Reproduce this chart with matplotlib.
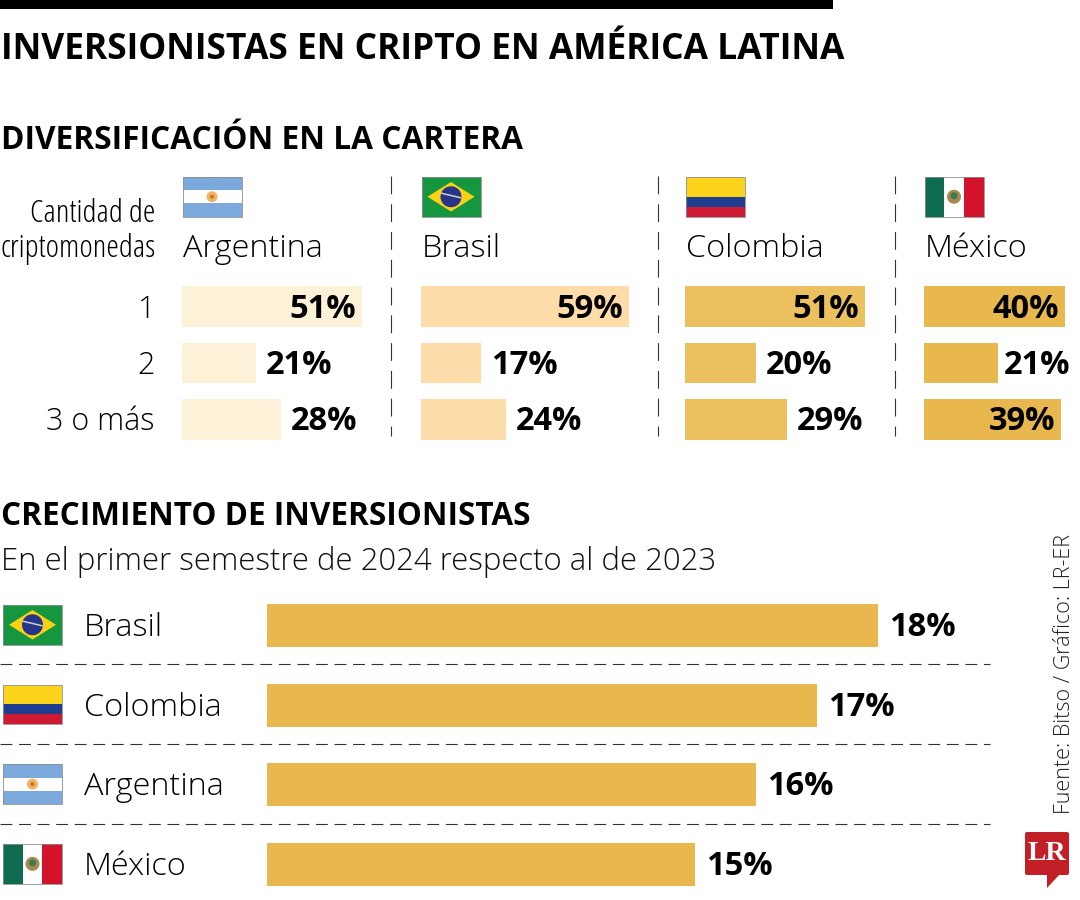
import matplotlib
matplotlib.use('Agg')
import matplotlib.pyplot as plt
from matplotlib.patches import Rectangle, Polygon, Circle, FancyBboxPatch

# datos
paises_top = ['Argentina', 'Brasil', 'Colombia', 'México']
filas = ['1', '2', '3 o más']
argentina = [51, 21, 28]
brasil = [59, 17, 24]
colombia = [51, 20, 29]
mexico = [40, 21, 39]

paises_bottom = ['Brasil', 'Colombia', 'Argentina', 'México']
crecimiento = [18, 17, 16, 15]

W, H = 1080, 900
LIGHT = 'Open Sans'
BOLD = 'Open Sans'
AMARILLO = '#E8B84E'

plt.rcParams['font.family'] = ['Open Sans', 'DejaVu Sans']

fig = plt.figure(figsize=(W / 100, H / 100), dpi=100, facecolor='white')


def ejes_px(x0, y0, x1, y1):
    # ejes a partir de una caja en pixeles (y hacia abajo)
    ax = fig.add_axes([x0 / W, 1 - y1 / H, (x1 - x0) / W, (y1 - y0) / H])
    ax.axis('off')
    return ax


lienzo = ejes_px(0, 0, W, H)
lienzo.set_xlim(0, W)
lienzo.set_ylim(H, 0)


def rect(x, y, w, h, color, z=2):
    lienzo.add_patch(Rectangle((x, y), w, h, fc=color, ec='none', zorder=z))


def bandera(nombre, x, y, w=59, h=39.5):
    if nombre == 'Argentina':
        rect(x, y, w, h, '#7BA9DC')
        rect(x, y + h / 3, w, h / 3, 'white', 3)
        lienzo.add_patch(Circle((x + w / 2, y + h / 2), 5.5, fc='#F0B366', ec='none', zorder=4))
        lienzo.add_patch(Circle((x + w / 2, y + h / 2), 2, fc='#C8761E', ec='none', zorder=5))
    elif nombre == 'Brasil':
        rect(x, y, w, h, '#16963F')
        lienzo.add_patch(Polygon([(x + 6, y + h / 2), (x + w / 2, y + 5), (x + w - 6, y + h / 2), (x + w / 2, y + h - 5)],
                                 fc='#FBD116', ec='none', zorder=3))
        lienzo.add_patch(Circle((x + w / 2, y + h / 2), 10.5, fc='#27348B', ec='none', zorder=4))
        lienzo.plot([x + w / 2 - 9.5, x + w / 2 + 9.5], [y + h / 2 - 3.5, y + h / 2 + 1], color='#C9D3C4', lw=1.1, zorder=5)
    elif nombre == 'Colombia':
        rect(x, y, w, h / 2, '#FDD41C')
        rect(x, y + h / 2, w, h / 4, '#1F3E8F')
        rect(x, y + h * 3 / 4, w, h / 4, '#CE1A32')
    else:
        rect(x, y, w / 3, h, '#0F6B4F')
        rect(x + w / 3, y, w / 3, h, 'white')
        rect(x + w * 2 / 3, y, w / 3, h, '#D2132B')
        lienzo.add_patch(Circle((x + w / 2, y + h / 2), 7, fc='#A8894F', ec='none', zorder=4))
        lienzo.add_patch(Circle((x + w / 2, y + h / 2 - 1), 3.5, fc='#3F7B4F', ec='none', zorder=5))
    lienzo.add_patch(Rectangle((x, y), w, h, fc='none', ec='#8A8F94', lw=0.6, zorder=6))


# barra superior y titulos
rect(0, 0, 833, 8.5, 'black')
lienzo.text(1, 59, 'INVERSIONISTAS EN CRIPTO EN AMÉRICA LATINA', fontsize=25.5, fontweight='bold', family=BOLD)
lienzo.text(1, 149, 'DIVERSIFICACIÓN EN LA CARTERA', fontsize=22.8, fontweight='bold', family=BOLD)
lienzo.text(1, 525, 'CRECIMIENTO DE INVERSIONISTAS', fontsize=22.7, fontweight='bold', family=BOLD)
lienzo.text(1, 570, 'En el primer semestre de 2024 respecto al de 2023', fontsize=22.4, family=LIGHT, fontweight='light', color='#111111')

lienzo.text(155, 222, 'Cantidad de', ha='right', fontsize=23, family=LIGHT, fontweight='light', stretch='condensed')
lienzo.text(156, 257, 'criptomonedas', ha='right', fontsize=23, family=LIGHT, fontweight='light', stretch='condensed')

# panel superior
series = [argentina, brasil, colombia, mexico]
x_inicio = [182, 421, 685, 924]
colores = ['#FDF1D8', '#FDDCA9', '#EBC05E', AMARILLO]
for nombre, vals, x0, col in zip(paises_top, series, x_inicio, colores):
    ax = ejes_px(x0, 278.25, x0 + 100 * 3.525, 447.75)
    ax.set_xlim(0, 100)
    ax.set_ylim(2.5, -0.5)
    ax.barh(range(len(vals)), vals, height=0.72, color=col)
    for i, v in enumerate(vals):
        if v >= 39:
            ax.annotate(f'{v}%', (v, i), xytext=(-6, 1.5), textcoords='offset pixels', ha='right', va='center_baseline',
                        fontsize=23.5, fontweight='bold', annotation_clip=False)
        else:
            dx = 6 if nombre == 'México' else 10
            ax.annotate(f'{v}%', (v, i), xytext=(dx, 1.5), textcoords='offset pixels', ha='left', va='center_baseline',
                        fontsize=23.5, fontweight='bold', annotation_clip=False)
    bandera(nombre, x0 + 0.5, 177)
    lienzo.text(x0 + 1, 257, nombre, fontsize=23.3, family=LIGHT, fontweight='light')

for yy, etiqueta in zip([318, 374, 430], filas):
    lienzo.text(155, yy, etiqueta, ha='right', fontsize=22, family=LIGHT, fontweight='light')

for xx in [391, 658, 895]:
    lienzo.plot([xx, xx], [176, 436], color='#333333', lw=0.8, dashes=(16, 9))

# panel inferior, la escala de la grafica no arranca en cero
BASE = 8
ax2 = ejes_px(267, 585.7, 267 + 61.1 * 12, 904.4)
ax2.set_xlim(BASE, BASE + 12)
ax2.set_ylim(3.5, -0.5)
for i, v in enumerate(crecimiento):
    ax2.barh(i, v - BASE, left=BASE, height=0.54, color=AMARILLO)
    ax2.annotate(f'{v}%', (v, i), xytext=(11, 2), textcoords='offset pixels', ha='left', va='center_baseline',
                 fontsize=23.5, fontweight='bold', annotation_clip=False)

for i, nombre in enumerate(paises_bottom):
    bandera(nombre, 3, 605 + i * 79.7)
    lienzo.text(84, 636 + i * 79.7, nombre, fontsize=23.3, family=LIGHT, fontweight='light')

for yy in [664, 744, 824]:
    lienzo.plot([0, 990], [yy, yy], color='#333333', lw=0.8, dashes=(10.7, 6))

# fuente y logo
lienzo.text(1064, 814, 'Fuente: Bitso / Gráfico: LR-ER', rotation=90, ha='center', va='bottom', fontsize=15.5,
            family=LIGHT, fontweight='light', color='#222222')
lienzo.add_patch(FancyBboxPatch((1025, 832), 44, 43, boxstyle='round,pad=0,rounding_size=2', fc='#C31F26', ec='none', zorder=2))
lienzo.add_patch(Polygon([(1047, 874), (1060, 874), (1047, 888)], fc='#C31F26', ec='none', zorder=2))
lienzo.text(1047, 854, 'LR', color='white', ha='center', va='center', fontsize=20, fontweight='bold',
            family='Liberation Serif', zorder=3)

fig.savefig('out.png', dpi=100)
